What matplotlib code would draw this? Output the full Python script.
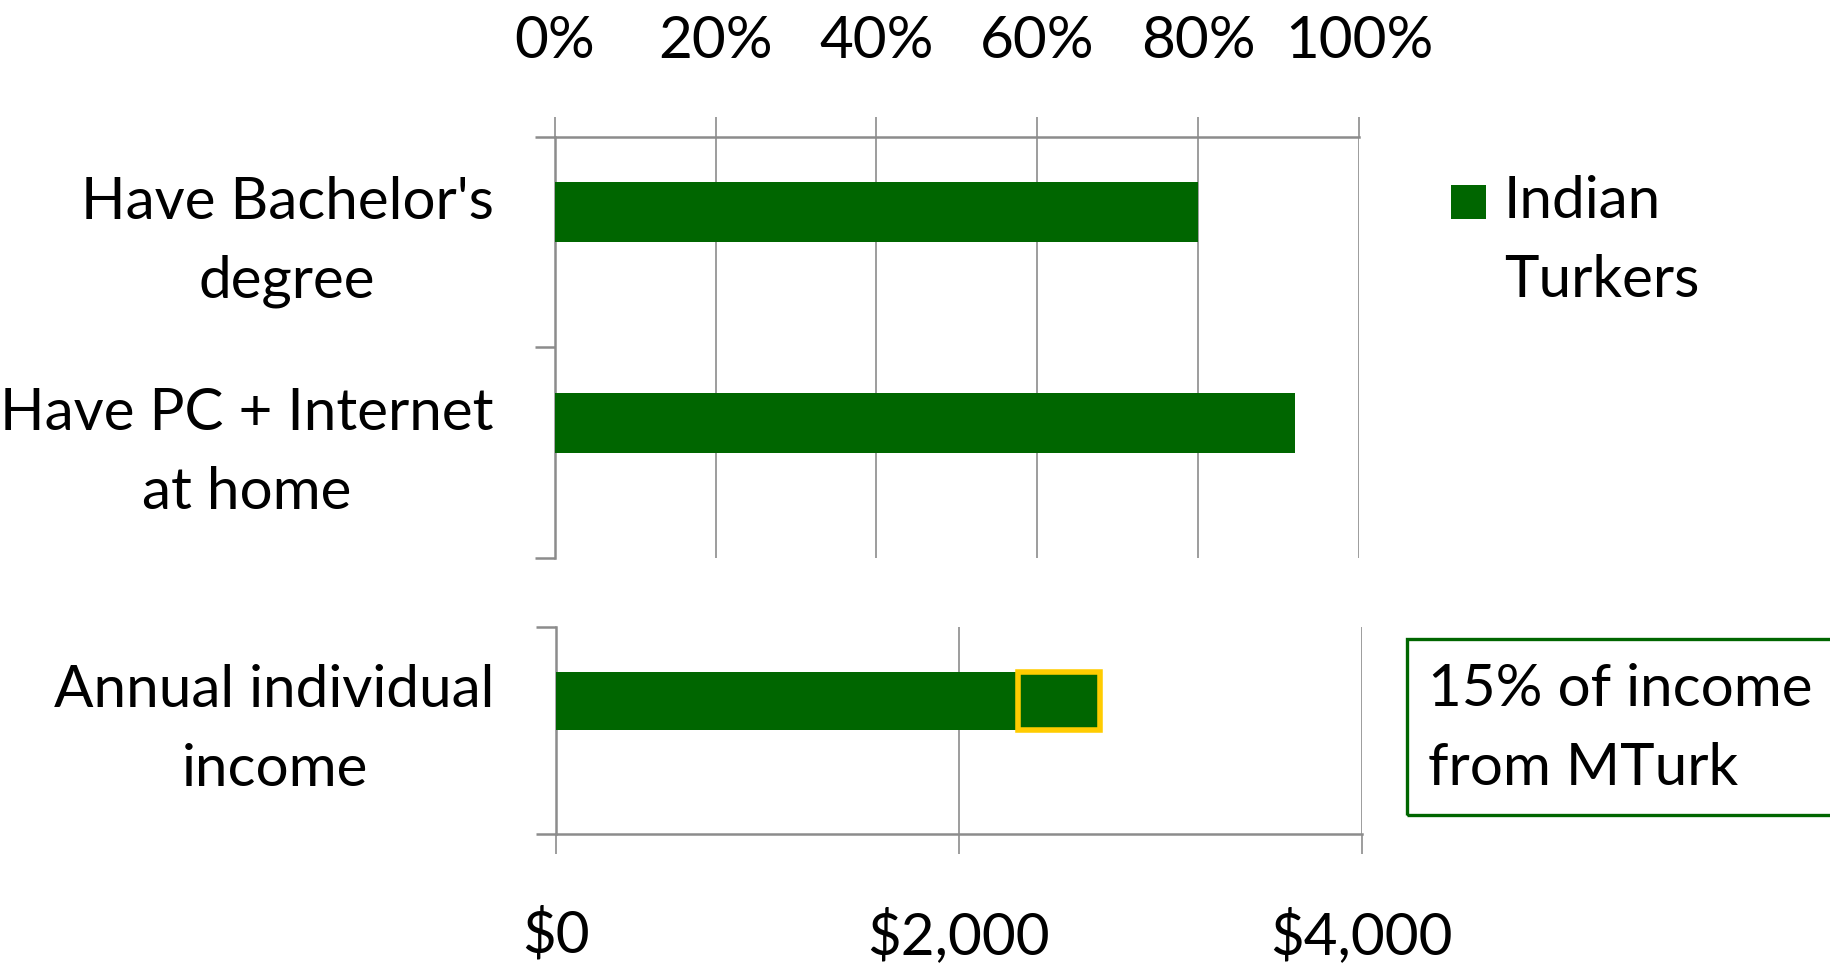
import matplotlib
matplotlib.use("Agg")
import matplotlib.pyplot as plt
from matplotlib.patches import Rectangle

plt.rcParams["font.family"] = ["Lato", "DejaVu Sans"]

# data
categories_top = ["Have Bachelor's\ndegree", "Have PC + Internet\nat home"]
share_values = [0.80, 0.92]
category_income = "Annual individual\nincome"
income_value = 2700
mturk_share = 0.15
series_label = "Indian\nTurkers"
note_text = "15% of income\nfrom MTurk"
pct_ticks = [0, 0.2, 0.4, 0.6, 0.8, 1.0]
usd_ticks = [0, 2000, 4000]

GREEN = "#006600"
YELLOW = "#FFCC00"
GRID = "#8c8c8c"
FS = 42
LS = 1.6
TICK_LEN = 14.4
bar_h = 0.283

fig = plt.figure(figsize=(18.31, 9.63), dpi=100)
ax1 = fig.add_axes([0.3029, 0.4204, 0.4394, 0.4378])
ax2 = fig.add_axes([0.3036, 0.1343, 0.4400, 0.2145])

# top panel: shares
pos = [i + 0.5 - bar_h / 2 for i in range(len(share_values))]
ax1.barh(pos, share_values, height=bar_h, color=GREEN, zorder=3)
ax1.set_xlim(0, 1)
ax1.set_ylim(len(share_values), 0)
ax1.xaxis.tick_top()
ax1.set_xticks(pct_ticks)
ax1.set_xticklabels([f"{int(round(v * 100))}%" for v in pct_ticks])
ax1.set_yticks(range(len(share_values) + 1))
ax1.set_yticks([i + 0.5 for i in range(len(share_values))], minor=True)
ax1.set_yticklabels(categories_top, minor=True)
ax1.tick_params(axis="y", which="major", length=TICK_LEN, width=1.8, color=GRID, labelleft=False)
ax1.tick_params(axis="y", which="minor", length=0, pad=44, labelsize=FS)
ax1.tick_params(axis="x", length=TICK_LEN, width=1.2, color=GRID, pad=35, labelsize=FS)
ax1.grid(axis="x", color=GRID, lw=1.2)
ax1.set_axisbelow(True)
for s in ["right", "bottom"]:
    ax1.spines[s].set_visible(False)
for s in ["top", "left"]:
    ax1.spines[s].set_color(GRID)
    ax1.spines[s].set_linewidth(1.8)
plt.setp(ax1.get_yticklabels(minor=True), multialignment="center", linespacing=LS,
         verticalalignment="center")

# bottom panel: income
ypos = [0.5 - bar_h / 2]
ax2.barh(ypos, [income_value], height=bar_h, color=GREEN, zorder=3)
ax2.barh(ypos, [income_value * mturk_share], left=[income_value * (1 - mturk_share)],
         height=bar_h, facecolor=GREEN, edgecolor=YELLOW, lw=4, zorder=4)
ax2.set_xlim(0, 4000)
ax2.set_ylim(1, 0)
ax2.set_xticks(usd_ticks)
ax2.set_xticklabels([f"${v:,}" for v in usd_ticks])
ax2.set_yticks([0, 1])
ax2.set_yticks([0.5], minor=True)
ax2.set_yticklabels([category_income], minor=True)
ax2.tick_params(axis="y", which="major", length=TICK_LEN, width=1.8, color=GRID, labelleft=False)
ax2.tick_params(axis="y", which="minor", length=0, pad=44, labelsize=FS)
ax2.tick_params(axis="x", length=TICK_LEN, width=1.2, color=GRID, pad=39, labelsize=FS)
ax2.grid(axis="x", color=GRID, lw=1.2)
ax2.set_axisbelow(True)
for s in ["right", "top"]:
    ax2.spines[s].set_visible(False)
for s in ["bottom", "left"]:
    ax2.spines[s].set_color(GRID)
    ax2.spines[s].set_linewidth(1.8)
plt.setp(ax2.get_yticklabels(minor=True), multialignment="center", linespacing=LS,
         verticalalignment="center")

# legend
fig.add_artist(Rectangle((0.7927, 0.7721), 0.0191, 0.0363, transform=fig.transFigure,
                         facecolor=GREEN, edgecolor="none"))
fig.text(0.8214, 0.7497, series_label, fontsize=FS, va="center", ha="left",
         linespacing=LS, transform=fig.transFigure)

# note box
fig.add_artist(Rectangle((0.7684, 0.1537), 0.3, 0.1831, transform=fig.transFigure,
                         facecolor="none", edgecolor=GREEN, lw=2.4))
fig.text(0.7799, 0.2430, note_text, fontsize=FS, va="center", ha="left",
         linespacing=LS, transform=fig.transFigure)

fig.savefig("out.png", dpi=100)
